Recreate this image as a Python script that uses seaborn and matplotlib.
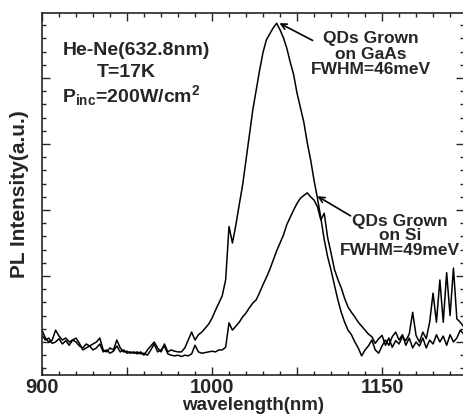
import matplotlib
matplotlib.use('Agg')
import matplotlib.pyplot as plt
import seaborn as sns
import pandas as pd
from matplotlib.ticker import MultipleLocator, FuncFormatter

# wavelength grid (nm), 2 nm steps
wavelength = list(range(900, 1150, 2))

# PL intensity (a.u.)
gaas = [0.18, 0.06, 0.00, 0.03, 0.18, 0.09, 0.03, 0.06, 0.00, 0.03,
        0.06, -0.02, -0.12, -0.09, -0.06, -0.03, 0.00, 0.06, -0.12, -0.15,
        -0.09, -0.12, 0.03, -0.09, -0.15, -0.14, -0.17, -0.15, -0.18, -0.15,
        -0.20, -0.12, -0.06, 0.00, -0.09, -0.15, -0.03, -0.15, -0.12, -0.14,
        -0.15, -0.15, -0.09, 0.03, 0.15, 0.03, 0.11, 0.15, 0.21, 0.27,
        0.36, 0.48, 0.59, 0.70, 0.94, 1.75, 1.50, 1.77, 2.08, 2.38,
        2.76, 3.14, 3.52, 3.82, 4.12, 4.39, 4.58, 4.67, 4.76, 4.83,
        4.73, 4.61, 4.45, 4.24, 4.05, 3.77, 3.55, 3.33, 3.02, 2.76,
        2.45, 2.18, 1.88, 1.55, 1.29, 1.09, 0.86, 0.64, 0.45, 0.30,
        0.18, 0.11, 0.00, -0.09, -0.21, -0.12, -0.06, 0.03, -0.12, -0.17,
        -0.06, 0.03, -0.05, 0.08, 0.15, 0.03, 0.11, -0.05, 0.06, -0.09,
        0.00, -0.06, 0.06, -0.09, 0.03, -0.03, 0.11, 0.00, 0.09, -0.05,
        0.11, 0.00, 0.06, 0.18, 0.12]

si = [0.10, 0.03, 0.06, -0.02, 0.00, 0.05, -0.03, 0.02, -0.05, 0.03,
      0.00, -0.06, -0.09, -0.03, -0.06, -0.12, -0.09, -0.03, -0.15, -0.12,
      -0.17, -0.14, -0.06, -0.15, -0.12, -0.17, -0.15, -0.17, -0.15, -0.18,
      -0.17, -0.20, -0.12, -0.03, -0.15, -0.12, -0.06, -0.18, -0.20, -0.21,
      -0.20, -0.22, -0.20, -0.21, -0.18, -0.05, -0.15, -0.17, -0.16, -0.15,
      -0.14, -0.15, -0.12, -0.12, -0.08, 0.29, 0.18, 0.24, 0.30, 0.38,
      0.44, 0.52, 0.59, 0.64, 0.75, 0.87, 0.98, 1.10, 1.24, 1.38,
      1.50, 1.62, 1.78, 1.89, 2.00, 2.10, 2.18, 2.22, 2.26, 2.20,
      2.15, 2.05, 1.85, 1.95, 1.58, 1.35, 1.10, 0.95, 0.82, 0.66,
      0.53, 0.45, 0.38, 0.30, 0.24, 0.18, 0.12, 0.08, -0.02, 0.05,
      0.10, -0.05, 0.06, -0.08, 0.02, -0.03, 0.08, 0.02, 0.12, 0.45,
      0.10, 0.00, 0.15, 0.05, 0.30, 0.74, 0.30, 0.94, 0.30, 1.05,
      0.40, 1.12, 0.35, 0.30, 0.23]

df = pd.DataFrame({'wavelength': wavelength, 'GaAs': gaas, 'Si': si})

sns.set_style('ticks')
plt.rcParams['font.family'] = ['Liberation Sans', 'DejaVu Sans']
plt.rcParams['font.weight'] = 'bold'
plt.rcParams['mathtext.fontset'] = 'custom'
plt.rcParams['mathtext.rm'] = 'Liberation Sans:bold'
plt.rcParams['mathtext.bf'] = 'Liberation Sans:bold'
plt.rcParams['mathtext.default'] = 'bf'

fig = plt.figure(figsize=(4.64, 4.18), dpi=100)
ax = fig.add_axes([42 / 464, 43 / 418, 422 / 464, 362 / 418])

sns.lineplot(data=df, x='wavelength', y='GaAs', color='black', lw=1.1, ax=ax)
sns.lineplot(data=df, x='wavelength', y='Si', color='black', lw=1.1, ax=ax)

ax.set_xlim(900, 1148.2)
ax.set_ylim(-0.5, 4.985)

# tick labels as printed on the original figure
xlabels = {900: '900', 1000: '1000', 1100: '1150'}
ax.xaxis.set_major_locator(MultipleLocator(50))
ax.xaxis.set_minor_locator(MultipleLocator(10))
ax.xaxis.set_major_formatter(FuncFormatter(lambda v, p: xlabels.get(int(round(v)), '')))
ax.yaxis.set_major_locator(MultipleLocator(1))
ax.yaxis.set_minor_locator(MultipleLocator(0.2))
ax.set_yticklabels([])

ax.tick_params(which='both', direction='in', top=True, right=True, width=1.0)
ax.tick_params(which='major', length=6)
ax.tick_params(which='minor', length=3)
ax.tick_params(axis='x', labelsize=14.5, pad=2)
for s in ax.spines.values():
    s.set_linewidth(1.2)

ax.set_xlabel('wavelength(nm)', fontsize=13.5, fontweight='bold', labelpad=0)
ax.set_ylabel('PL Intensity(a.u.)', fontsize=15, fontweight='bold', labelpad=6)

# left text block
ax.text(955.3, 4.42, 'He-Ne(632.8nm)', fontsize=14, fontweight='bold', ha='center', va='center')
ax.text(949.4, 4.09, 'T=17K', fontsize=14, fontweight='bold', ha='center', va='center')
ax.text(952.4, 3.74, r'P$_{inc}$=200W/cm$^{2}$', fontsize=14, fontweight='bold', ha='center', va='center')

# annotations
ax.text(1093.5, 4.36, 'QDs Grown\non GaAs\nFWHM=46meV', fontsize=12.5, fontweight='bold',
        ha='center', va='center', linespacing=1.06)
ax.annotate('', xy=(1038.2, 4.85), xytext=(1060.6, 4.55),
            arrowprops=dict(arrowstyle='->', color='black', lw=1.2))

ax.text(1110.6, 1.61, 'QDs Grown\non Si\nFWHM=49meV', fontsize=12.5, fontweight='bold',
        ha='center', va='center', linespacing=0.97)
ax.annotate('', xy=(1060.6, 2.23), xytext=(1082.9, 1.89),
            arrowprops=dict(arrowstyle='->', color='black', lw=1.2))

fig.savefig('out.png', dpi=100)
plt.close()
